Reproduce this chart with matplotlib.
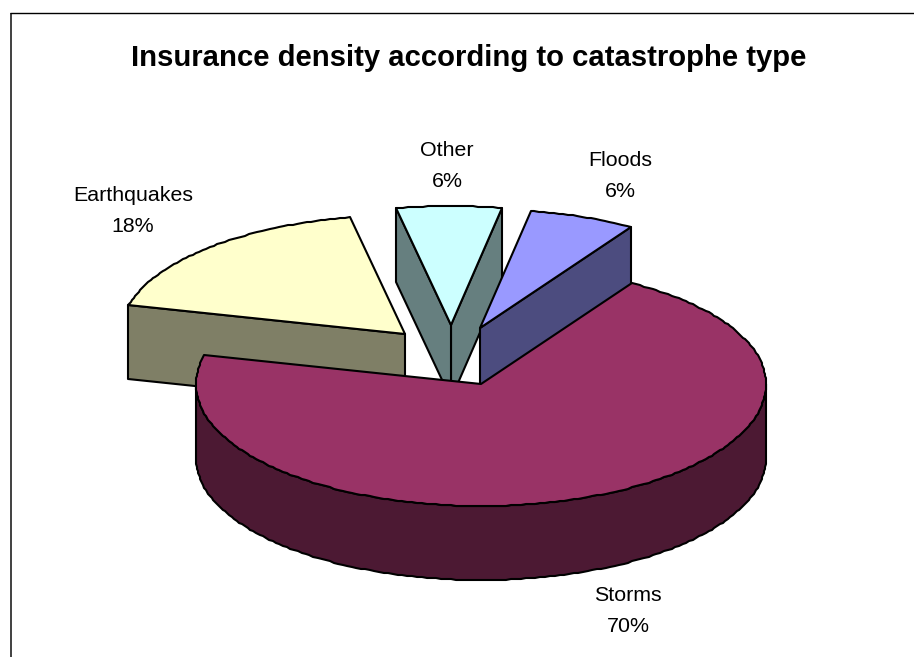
import numpy as np
import matplotlib
matplotlib.use("Agg")
import matplotlib.pyplot as plt
from matplotlib.patches import Polygon

plt.rcParams['font.family'] = ['Liberation Sans', 'DejaVu Sans']

categories = ['Floods', 'Other', 'Earthquakes', 'Storms']
shares = [6, 6, 18, 70]
top_colors = ['#9999FF', '#CCFFFF', '#FFFFCC', '#993366']
side_colors = ['#4C4C7F', '#667F7F', '#7F7F66', '#4C1933']
title = 'Insurance density according to catastrophe type'

# pie geometry, in pixels
cx, cy = 481, 384
rx = 285
ry_back, ry_front = 119, 122
depth = 74
first_angle = 58
# how far each slice is pulled out of the pie
offsets = [(-1, -56), (-30, -59), (-76, -50), (0, 0)]
label_pos = [(620, 176), (447, 166), (133, 211), (628, 611)]


def rim(t_deg, ox, oy):
    t = np.radians(t_deg)
    s = np.sin(t)
    ry = np.where(s > 0, ry_back, ry_front)
    # snapped to whole pixels, the outline comes out slightly bumpy
    x = np.round(cx + ox + rx * np.cos(t))
    y = np.round(cy + oy - ry * s)
    return np.column_stack([x, y])


def add_poly(ax, pts, color):
    ax.add_patch(Polygon(pts, closed=True, facecolor=color, edgecolor='black',
                         linewidth=1.5, joinstyle='round'))


def draw_slice(ax, start, end, ox, oy, top, side):
    apex = np.array([cx + ox, cy + oy])
    down = np.array([0, depth])
    ts = np.append(np.arange(start, end, 1.0), end)
    edge = rim(ts, ox, oy)

    # radial walls only show when they face the viewer
    if np.cos(np.radians(start)) > 0:
        add_poly(ax, [edge[0], apex, apex + down, edge[0] + down], side)
    if np.cos(np.radians(end)) < 0:
        add_poly(ax, [edge[-1], apex, apex + down, edge[-1] + down], side)

    # outer wall along the front half of the rim
    front = np.sin(np.radians(ts)) <= 0
    if front.any():
        f = edge[front]
        add_poly(ax, np.vstack([f, (f + down)[::-1]]), side)

    add_poly(ax, np.vstack([apex, edge]), top)


fig = plt.figure(figsize=(9.14, 6.57), dpi=100)
ax = fig.add_axes([0, 0, 1, 1])
ax.set_xlim(0, 914)
ax.set_ylim(657, 0)
ax.axis('off')

# chart frame: only the left and top edges fall inside the image
ax.plot([10.5, 10.5], [657, 12.5], color='#404040', lw=1.4, solid_capstyle='butt')
ax.plot([10, 914], [12.7, 12.7], color='black', lw=1.0, solid_capstyle='butt')

spans = np.array(shares) / sum(shares) * 360
starts = first_angle + np.concatenate([[0], np.cumsum(spans)[:-1]])

# back slices first, the big front slice last
for i in [2, 1, 0, 3]:
    draw_slice(ax, starts[i], starts[i] + spans[i], offsets[i][0], offsets[i][1],
               top_colors[i], side_colors[i])

for name, share, (x, y) in zip(categories, shares, label_pos):
    ax.text(x, y, f'{name}\n{share}%', ha='center', va='center', fontsize=15.4,
            color='black', linespacing=1.78)

ax.text(469, 58.5, title, ha='center', va='center', fontsize=21.1, fontweight='bold')

fig.savefig('out.png', dpi=100, facecolor='white')
